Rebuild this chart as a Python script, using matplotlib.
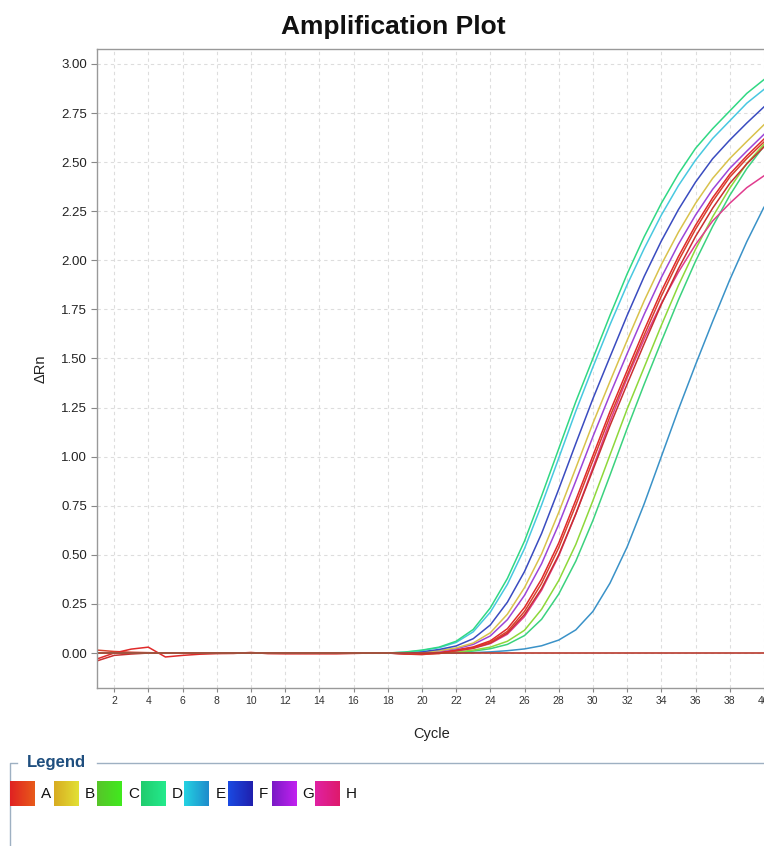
import matplotlib
matplotlib.use('Agg')
import matplotlib.pyplot as plt
import numpy as np

plt.rcParams['font.family'] = ['Liberation Sans', 'DejaVu Sans']

# Données (Delta Rn par cycle, cycles 1 à 40)
cycles = list(range(1, 41))

baseline = [0.0, 0.0, 0.0, 0.0, 0.0, 0.0, 0.0, 0.0, 0.0, 0.0,
            0.0, 0.0, 0.0, 0.0, 0.0, 0.0, 0.0]  # cycles 1-17

d1 = baseline + [0.0, 0.005, 0.015, 0.03, 0.06, 0.12, 0.23, 0.38, 0.57, 0.80, 1.04, 1.28,
                 1.50, 1.72, 1.93, 2.12, 2.29, 2.44, 2.57, 2.67, 2.76, 2.85, 2.92]
e1 = baseline + [0.0, 0.004, 0.013, 0.027, 0.054, 0.108, 0.208, 0.350, 0.532, 0.754, 0.992, 1.232,
                 1.456, 1.672, 1.875, 2.06, 2.23, 2.38, 2.51, 2.62, 2.71, 2.80, 2.87]
f1 = baseline + [0.0, 0.001, 0.007, 0.018, 0.036, 0.073, 0.143, 0.259, 0.415, 0.609, 0.834, 1.067,
                 1.295, 1.508, 1.719, 1.918, 2.098, 2.258, 2.398, 2.517, 2.612, 2.699, 2.781]
b1 = baseline + [0.0, 0.0, 0.004, 0.012, 0.026, 0.051, 0.103, 0.198, 0.333, 0.505, 0.716, 0.942,
                 1.170, 1.383, 1.592, 1.794, 1.978, 2.143, 2.290, 2.417, 2.518, 2.605, 2.690]
g1 = baseline + [0.0, 0.0, 0.003, 0.010, 0.022, 0.044, 0.087, 0.170, 0.294, 0.455, 0.655, 0.876,
                 1.102, 1.317, 1.524, 1.725, 1.912, 2.081, 2.230, 2.361, 2.468, 2.556, 2.641]
a1 = [-0.03, 0.0, 0.02, 0.03, -0.02, -0.012, -0.006, -0.003, -0.002, 0.003, -0.003, -0.004,
      -0.004, -0.004, -0.004, -0.002, 0.0,
      0.0, -0.003, -0.004, 0.002, 0.016, 0.031, 0.062, 0.124, 0.232, 0.377, 0.560, 0.779,
      1.005, 1.230, 1.438, 1.645, 1.842, 2.019, 2.178, 2.318, 2.438, 2.532, 2.617]
a2 = [0.015, 0.008, 0.004, 0.002, 0.0, 0.0, 0.0, 0.0, 0.0, 0.0, 0.0, 0.0, 0.0, 0.0, 0.0, 0.0, 0.0,
      0.0, -0.004, -0.006, -0.003, 0.014, 0.028, 0.055, 0.110, 0.212, 0.355, 0.536, 0.753,
      0.980, 1.205, 1.413, 1.619, 1.817, 1.997, 2.158, 2.300, 2.423, 2.518, 2.602]
a3 = [-0.04, -0.012, -0.005, 0.0, 0.0, 0.0, 0.0, 0.0, 0.0, 0.0, 0.0, 0.0, 0.0, 0.0, 0.0, 0.0, 0.0,
      0.0, -0.005, -0.008, 0.0, 0.012, 0.025, 0.051, 0.102, 0.196, 0.329, 0.500, 0.709,
      0.932, 1.158, 1.369, 1.575, 1.775, 1.957, 2.121, 2.265, 2.391, 2.491, 2.577]
h1 = baseline + [0.0, 0.0, -0.002, 0.004, 0.011, 0.024, 0.048, 0.096, 0.186, 0.32, 0.494, 0.708,
                 0.944, 1.18, 1.40, 1.60, 1.78, 1.94, 2.08, 2.20, 2.29, 2.37, 2.43]
c1 = baseline + [0.0, 0.0, 0.0, 0.0, 0.005, 0.015, 0.03, 0.06, 0.116, 0.223, 0.369, 0.553,
                 0.776, 1.009, 1.242, 1.455, 1.668, 1.872, 2.056, 2.221, 2.367, 2.493, 2.590]
d2 = baseline + [0.0, 0.0, 0.0, 0.0, 0.003, 0.010, 0.022, 0.044, 0.089, 0.172, 0.300, 0.468,
                 0.675, 0.906, 1.143, 1.369, 1.586, 1.798, 1.995, 2.172, 2.330, 2.467, 2.581]
e2 = baseline + [0.0, 0.0, 0.0, 0.0, 0.0, 0.002, 0.006, 0.012, 0.021, 0.037, 0.066, 0.118,
                 0.212, 0.356, 0.540, 0.760, 1.000, 1.240, 1.468, 1.688, 1.900, 2.095, 2.270]

threshold = 0.0

courbes = [
    (e2, '#3a92c8'), (d2, '#3bd27e'), (c1, '#8ed83a'), (h1, '#e03c8e'),
    (a3, '#c83030'), (a2, '#d8402c'), (a1, '#e02a2a'), (g1, '#9c46d8'),
    (b1, '#d9c24c'), (f1, '#3a4cc0'), (e1, '#48c8e0'), (d1, '#30d884'),
]

legend_labels = ['A', 'B', 'C', 'D', 'E', 'F', 'G', 'H']
legend_colors = [('#e02222', '#e85a1a'), ('#d8ac22', '#e2e034'), ('#58c42a', '#40ea1e'),
                 ('#20cc6e', '#24ea8c'), ('#24d2e2', '#1e8ccc'), ('#1a4ae2', '#2020ae'),
                 ('#7a1ac6', '#c222f0'), ('#e022a2', '#de1a6c')]

# Figure
W, H = 764, 846
fig = plt.figure(figsize=(W / 100, H / 100), dpi=100)

ax_l, ax_r, ax_t, ax_b = 97, 781, 49, 688
ax = fig.add_axes([ax_l / W, 1 - ax_b / H, (ax_r - ax_l) / W, (ax_b - ax_t) / H])

for y, col in courbes:
    ax.plot(cycles, y, color=col, linewidth=1.1, solid_joinstyle='round')
ax.axhline(threshold, color='#b83a2e', linewidth=1.2)

ax.set_xlim(1, 41)
ax.set_ylim(-0.178, 3.076)
ax.set_xticks(np.arange(2, 41, 2))
ax.set_yticks(np.arange(0, 3.01, 0.25))
ax.set_yticklabels(['%.2f' % v for v in np.arange(0, 3.01, 0.25)])
ax.tick_params(axis='x', labelsize=7.5, length=3, color='#888888', labelcolor='#333333', pad=3)
ax.tick_params(axis='y', labelsize=9.5, length=4, color='#888888', labelcolor='#222222', pad=3)
ax.grid(True, color='#dddddd', linestyle=(0, (3, 3)), linewidth=0.8)
for s in ax.spines.values():
    s.set_color('#999999')
    s.set_linewidth(1.0)

ax.set_xlabel('Cycle', fontsize=10.5, color='#222222', labelpad=6)
ax.set_ylabel('ΔRn', fontsize=10.5, color='#222222', labelpad=10)
ax.xaxis.set_label_coords((432 - ax_l) / (ax_r - ax_l), -(727 - ax_b) / (ax_b - ax_t))

fig.text(393 / W, 1 - 27 / H, 'Amplification Plot', ha='center', va='center',
         fontsize=19, fontweight='bold', color='#111111')

# Légende
lax = fig.add_axes([0, 0, 1, 1], facecolor='none')
lax.set_xlim(0, W)
lax.set_ylim(H, 0)
lax.axis('off')
lax.plot([10, 10, 17], [846, 763, 763], color='#9eb0c2', linewidth=1.0)
lax.plot([97, 764], [763, 763], color='#9eb0c2', linewidth=1.0)
lax.text(27, 763, 'Legend', fontsize=12, fontweight='bold', color='#1f4f7f',
         ha='left', va='center')

grad = np.linspace(0, 1, 32)
for i, (lab, (c0, c1_)) in enumerate(zip(legend_labels, legend_colors)):
    x0 = 10 + i * 43.6
    rgb0 = np.array(matplotlib.colors.to_rgb(c0))
    rgb1 = np.array(matplotlib.colors.to_rgb(c1_))
    img = rgb0[None, None, :] * (1 - grad[None, :, None]) + rgb1[None, None, :] * grad[None, :, None]
    lax.imshow(img, extent=[x0, x0 + 25, 806, 781], aspect='auto', zorder=2)
    lax.text(x0 + 31, 794, lab, fontsize=11, color='#111111', ha='left', va='center')
lax.set_xlim(0, W)
lax.set_ylim(H, 0)

fig.savefig('out.png', dpi=100)
